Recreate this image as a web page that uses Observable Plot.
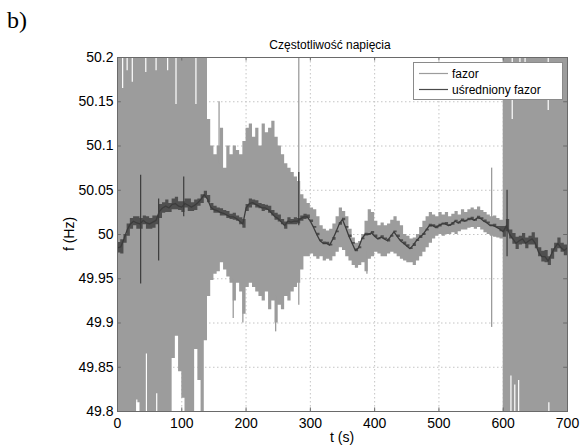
<!DOCTYPE html>
<html>
<head>
<meta charset="utf-8">
<script src="https://cdn.jsdelivr.net/npm/d3@7"></script>
<script src="https://cdn.jsdelivr.net/npm/@observablehq/plot@0.6"></script>
<style>
  html, body { margin: 0; padding: 0; background: #fff; }
  #wrap { position: relative; width: 583px; height: 445px; overflow: hidden; font-family: "Liberation Sans", Arial, sans-serif; }
  #wrap svg { position: absolute; left: 0; top: 0; }
</style>
</head>
<body>
<div id="wrap"></div>
<script>
// ---------- data ----------
const panelLabel = "b)";
const chartTitle = "Częstotliwość napięcia";
const xLabel = "t (s)";
const yLabel = "f (Hz)";
const legendLabels = ["fazor", "uśredniony fazor"];

const xTicks = [0, 100, 200, 300, 400, 500, 600, 700];
const yTicks = [49.8, 49.85, 49.9, 49.95, 50, 50.05, 50.1, 50.15, 50.2];
const yTickLabels = ["49.8", "49.85", "49.9", "49.95", "50", "50.05", "50.1", "50.15", "50.2"];

// sample times (s)
const fazorT = [
  0, 5, 10, 15, 20, 25, 30, 35, 40, 45,
  50, 55, 60, 65, 70, 75, 80, 85, 90, 95,
  100, 105, 110, 115, 120, 125, 130, 135, 140, 145,
  150, 155, 160, 165, 170, 175, 180, 185, 190, 195,
  200, 205, 210, 215, 220, 225, 230, 235, 240, 245,
  250, 255, 260, 265, 270, 275, 280, 285, 290, 295,
  300, 305, 310, 315, 320, 325, 330, 335, 340, 345,
  350, 355, 360, 365, 370, 375, 380, 385, 390, 395,
  400, 405, 410, 415, 420, 425, 430, 435, 440, 445,
  450, 455, 460, 465, 470, 475, 480, 485, 490, 495,
  500, 505, 510, 515, 520, 525, 530, 535, 540, 545,
  550, 555, 560, 565, 570, 575, 580, 585, 590, 595,
  600, 605, 610, 615, 620, 625, 630, 635, 640, 645,
  650, 655, 660, 665, 670, 675, 680, 685, 690, 695,
  700
];
// "fazor" – upper envelope of the raw signal (Hz)
const fazorHi = [
  50.2, 50.2, 50.2, 50.2, 50.2, 50.2, 50.2, 50.2, 50.2, 50.2,
  50.2, 50.2, 50.2, 50.2, 50.2, 50.2, 50.2, 50.2, 50.2, 50.2,
  50.2, 50.2, 50.2, 50.2, 50.2, 50.2, 50.2, 50.2, 50.13, 50.10,
  50.09, 50.10, 50.12, 50.075, 50.10, 50.09, 50.10, 50.095, 50.09, 50.105,
  50.12, 50.125, 50.11, 50.12, 50.10, 50.125, 50.115, 50.12, 50.128, 50.11,
  50.10, 50.09, 50.08, 50.075, 50.07, 50.065, 50.06, 50.045, 50.04, 50.035,
  50.03, 50.028, 50.02, 50.01, 50.006, 50.004, 50.006, 50.012, 50.02, 50.03,
  50.026, 50.02, 50.006, 49.996, 49.99, 49.992, 50.0, 50.015, 50.028, 50.025,
  50.015, 50.01, 50.013, 50.01, 50.012, 50.016, 50.02, 50.015, 50.01, 50.0,
  49.998, 49.995, 49.996, 50.0, 50.008, 50.015, 50.02, 50.025, 50.022, 50.02,
  50.025, 50.022, 50.025, 50.02, 50.023, 50.026, 50.022, 50.028, 50.025, 50.028,
  50.03, 50.028, 50.031, 50.027, 50.025, 50.022, 50.02, 50.021, 50.018, 50.016,
  50.2, 50.2, 50.2, 50.2, 50.2, 50.2, 50.2, 50.2, 50.2, 50.2,
  50.2, 50.2, 50.2, 50.2, 50.2, 50.2, 50.2, 50.2, 50.2, 50.2,
  50.2
];
// "fazor" – lower envelope (Hz)
const fazorLo = [
  49.8, 49.8, 49.8, 49.8, 49.8, 49.8, 49.81, 49.8, 49.8, 49.8,
  49.8, 49.8, 49.8, 49.8, 49.8, 49.8, 49.8, 49.86, 49.885, 49.845,
  49.815, 49.8, 49.8, 49.8, 49.87, 49.835, 49.8, 49.88, 49.93, 49.948,
  49.955, 49.958, 49.968, 49.96, 49.952, 49.945, 49.925, 49.945, 49.935, 49.91,
  49.94, 49.945, 49.94, 49.935, 49.93, 49.925, 49.935, 49.915, 49.925, 49.9,
  49.92, 49.915, 49.93, 49.925, 49.935, 49.94, 49.945, 49.96, 49.975, 49.975,
  49.978, 49.975, 49.972, 49.975, 49.97, 49.972, 49.97, 49.975, 49.98, 49.985,
  49.982, 49.975, 49.97, 49.965, 49.962, 49.965, 49.968, 49.958, 49.972, 49.975,
  49.98, 49.978, 49.975, 49.975, 49.978, 49.98, 49.978, 49.975, 49.972, 49.97,
  49.968, 49.968, 49.965, 49.97, 49.975, 49.98, 49.985, 49.99, 49.995, 49.998,
  50.0, 49.998, 50.0, 50.0, 50.002, 50.0, 50.003, 50.005, 50.005, 50.007,
  50.008, 50.006, 50.008, 50.005, 50.002, 50.0, 49.998, 49.997, 49.996, 49.995,
  49.8, 49.8, 49.8, 49.8, 49.8, 49.8, 49.8, 49.8, 49.8, 49.8,
  49.8, 49.8, 49.8, 49.8, 49.8, 49.8, 49.8, 49.8, 49.8, 49.8,
  49.8
];
// "uśredniony fazor" – averaged signal (Hz)
const avgF = [
  49.985, 49.986, 49.995, 50.005, 50.012, 50.015, 50.013, 50.012, 50.016, 50.013,
  50.012, 50.014, 50.016, 50.026, 50.03, 50.032, 50.03, 50.034, 50.035, 50.032,
  50.031, 50.035, 50.033, 50.031, 50.033, 50.036, 50.04, 50.045, 50.04, 50.031,
  50.028, 50.027, 50.025, 50.024, 50.022, 50.02, 50.02, 50.018, 50.015, 50.012,
  50.03, 50.035, 50.036, 50.034, 50.032, 50.03, 50.03, 50.028, 50.024, 50.02,
  50.018, 50.014, 50.01, 50.015, 50.014, 50.015, 50.015, 50.018, 50.02, 50.02,
  50.015, 50.008, 50.0, 49.993, 49.99, 49.99, 49.988, 49.995, 50.003, 50.012,
  50.017, 50.008, 49.998, 49.99, 49.982, 49.985, 49.995, 50.0, 50.0, 50.002,
  49.998, 49.995, 49.997, 49.995, 49.993, 49.998, 50.003, 49.998, 49.993, 49.99,
  49.987, 49.984, 49.988, 49.993, 49.997, 50.0, 50.005, 50.01, 50.01, 50.008,
  50.01, 50.012, 50.012, 50.01, 50.012, 50.015, 50.013, 50.016, 50.015, 50.017,
  50.018, 50.016, 50.019, 50.018, 50.015, 50.013, 50.01, 50.01, 50.008, 50.006,
  50.003, 50.01, 50.0, 49.995, 49.99, 49.993, 49.995, 49.99, 49.993, 49.995,
  49.99, 49.98, 49.975, 49.975, 49.97, 49.978, 49.985, 49.99, 49.985, 49.982,
  49.985
];
// half-width of the noise around the averaged signal (Hz)
const avgNoise = [
  0.006, 0.008, 0.005, 0.007, 0.006, 0.005, 0.007, 0.006, 0.005, 0.007,
  0.006, 0.007, 0.005, 0.008, 0.006, 0.007, 0.005, 0.006, 0.007, 0.005,
  0.006, 0.005, 0.007, 0.005, 0.006, 0.004, 0.005, 0.004, 0.004, 0.004,
  0.004, 0.003, 0.004, 0.003, 0.004, 0.003, 0.004, 0.003, 0.004, 0.005,
  0.004, 0.005, 0.003, 0.004, 0.003, 0.004, 0.003, 0.004, 0.003, 0.004,
  0.004, 0.003, 0.004, 0.004, 0.003, 0.004, 0.003, 0.003, 0.003, 0.002,
  0.0015, 0.001, 0.0015, 0.001, 0.0015, 0.0012, 0.001, 0.0015, 0.001, 0.0015,
  0.0015, 0.001, 0.0015, 0.001, 0.0015, 0.0012, 0.001, 0.0015, 0.001, 0.0015,
  0.0015, 0.001, 0.0015, 0.001, 0.0015, 0.0012, 0.001, 0.0015, 0.001, 0.0015,
  0.0015, 0.001, 0.0015, 0.001, 0.0015, 0.0012, 0.001, 0.0015, 0.001, 0.0015,
  0.0015, 0.001, 0.0015, 0.001, 0.0015, 0.0012, 0.001, 0.0015, 0.001, 0.0015,
  0.0015, 0.001, 0.0015, 0.001, 0.0015, 0.0012, 0.001, 0.0015, 0.001, 0.003,
  0.006, 0.007, 0.005, 0.006, 0.007, 0.005, 0.006, 0.006, 0.005, 0.007,
  0.006, 0.005, 0.006, 0.007, 0.005, 0.006, 0.005, 0.006, 0.005, 0.006,
  0.005
];
// isolated spikes of the raw signal
const fazorSpikeT  = [158, 180, 195, 246, 282, 388, 582];
const fazorSpikeLo = [50.08, 49.905, 49.9, 49.89, 49.92, 49.955, 49.895];
const fazorSpikeHi = [50.15, 49.95, 49.94, 49.93, 50.2, 49.98, 50.075];
// thin gaps (white slivers) inside the saturated parts of the raw signal
const gapT  = [8, 15, 23, 44, 60, 78, 91, 122, 614, 626, 634, 670, 30, 45, 61, 612, 618, 624, 671];
const gapLo = [50.165, 50.185, 50.172, 50.183, 50.185, 50.185, 50.147, 50.147, 50.13, 50.19, 50.19, 50.14,
               49.8, 49.8, 49.8, 49.8, 49.8, 49.8, 49.8];
const gapHi = [50.2, 50.2, 50.2, 50.2, 50.2, 50.2, 50.2, 50.2, 50.2, 50.2, 50.2, 50.2,
               49.813, 49.865, 49.82, 49.84, 49.83, 49.835, 49.81];
// isolated spikes of the averaged signal
const avgSpikeT  = [36, 64, 103, 282, 606];
const avgSpikeLo = [49.944, 49.97, 50.02, 50.01, 49.975];
const avgSpikeHi = [50.067, 50.04, 50.065, 50.07, 50.05];

// ---------- styles ----------
const cFazor = "#9c9c9c";
const cAvg = "#3c3c3c";
const cGrid = "#c4c4c4";
const cFrame = "#6a6a6a";

const rows = fazorT.map((t, i) => ({t, lo: fazorLo[i], hi: fazorHi[i], avg: avgF[i], n: avgNoise[i]}));
const xMin = xTicks[0], xMax = xTicks[xTicks.length - 1];
const yMin = yTicks[0], yMax = yTicks[yTicks.length - 1];

const chart = Plot.plot({
  width: 583,
  height: 445,
  marginLeft: 117,
  marginRight: 16,
  marginTop: 57,
  marginBottom: 34,
  x: {domain: [xMin, xMax]},
  y: {domain: [yMin, yMax]},
  style: {fontFamily: "'Liberation Sans', Arial, sans-serif", fontSize: "14px", color: "#000", background: "transparent", overflow: "visible"},
  marks: [
    Plot.ruleX(xTicks, {x: d => d, stroke: cGrid, strokeDasharray: "1.5,2.5"}),
    Plot.ruleY(yTicks, {y: d => d, stroke: cGrid, strokeDasharray: "1.5,2.5"}),
    Plot.areaY(rows, {x: "t", y1: "lo", y2: "hi", fill: cFazor, curve: "step-after", clip: true}),
    Plot.ruleX(fazorSpikeT, {x: d => d, y1: (d, i) => fazorSpikeLo[i], y2: (d, i) => fazorSpikeHi[i], stroke: cFazor, strokeWidth: 1.3, clip: true}),
    Plot.ruleX(gapT, {x: d => d, y1: (d, i) => gapLo[i], y2: (d, i) => gapHi[i], stroke: "#fff", strokeWidth: 1.2, clip: true}),
    Plot.areaY(rows, {x: "t", y1: d => d.avg - d.n, y2: d => d.avg + d.n, fill: cAvg, fillOpacity: 0.8, curve: "step-after", clip: true}),
    Plot.line(rows, {x: "t", y: "avg", stroke: cAvg, strokeWidth: 1.3, clip: true}),
    Plot.ruleX(avgSpikeT, {x: d => d, y1: (d, i) => avgSpikeLo[i], y2: (d, i) => avgSpikeHi[i], stroke: cAvg, strokeWidth: 1.2, clip: true}),
    // inward ticks (MATLAB style box)
    Plot.ruleX(xTicks, {x: d => d, y1: yMin, y2: yMin + 0.004, stroke: cFrame}),
    Plot.ruleX(xTicks, {x: d => d, y1: yMax - 0.004, y2: yMax, stroke: cFrame}),
    Plot.ruleY(yTicks, {y: d => d, x1: xMin, x2: xMin + 6, stroke: cFrame}),
    Plot.ruleY(yTicks, {y: d => d, x1: xMax - 6, x2: xMax, stroke: cFrame}),
    Plot.frame({stroke: cFrame}),
    Plot.axisX({ticks: xTicks, tickSize: 0, tickPadding: 7, label: null, tickFormat: d => String(d), fontSize: 14}),
    Plot.axisY({ticks: yTicks, tickSize: 0, tickPadding: 4, label: null, tickFormat: d => yTickLabels[yTicks.indexOf(d)], fontSize: 14})
  ]
});
const wrap = document.getElementById("wrap");
wrap.appendChild(chart);

// ---------- overlay texts and legend ----------
const ns = "http://www.w3.org/2000/svg";
const ov = document.createElementNS(ns, "svg");
ov.setAttribute("width", 583);
ov.setAttribute("height", 445);
ov.style.fontFamily = "'Liberation Sans', Arial, sans-serif";
function el(tag, attrs, text) {
  const e = document.createElementNS(ns, tag);
  for (const k in attrs) e.setAttribute(k, attrs[k]);
  if (text != null) e.textContent = text;
  ov.appendChild(e);
  return e;
}
el("text", {x: 7, y: 28, "font-family": "'Liberation Serif', 'Times New Roman', serif", "font-size": 24}, panelLabel);
el("text", {x: 330, y: 48.5, "text-anchor": "middle", "font-size": 12}, chartTitle);
el("text", {x: 342, y: 441.5, "text-anchor": "middle", "font-size": 14}, xLabel);
el("text", {x: 0, y: 0, "text-anchor": "middle", "font-size": 14, transform: "translate(74,234) rotate(-90)"}, yLabel);
// legend
el("rect", {x: 413.5, y: 62.5, width: 149, height: 37, fill: "#fff", stroke: "#8a8a8a"});
const legColors = [cFazor, "#4a4a4a"];
legendLabels.forEach((lab, i) => {
  const cy = 73.5 + i * 16;
  el("line", {x1: 419, x2: 448, y1: cy, y2: cy, stroke: legColors[i], "stroke-width": 1.2});
  el("text", {x: 452, y: cy + 4, "font-size": 12}, lab);
});
wrap.appendChild(ov);
</script>
</body>
</html>
